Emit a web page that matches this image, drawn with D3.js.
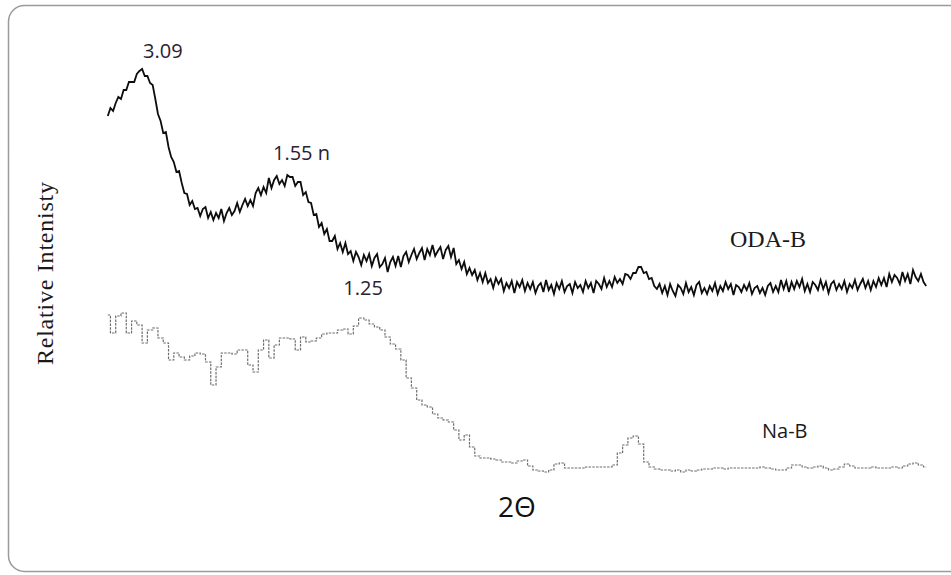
<!DOCTYPE html>
<html>
<head>
<meta charset="utf-8">
<script src="https://cdn.jsdelivr.net/npm/d3@7"></script>
<style>
  html, body { margin: 0; padding: 0; background: #fff; }
  svg { display: block; }
</style>
</head>
<body>
<svg id="chart" width="951" height="575"></svg>
<script>
// XRD scans of the organo-clay (ODA-B) and sodium clay (Na-B), offset vertically.
// Scan settings (2θ, degrees)
const scanStart = 2.25;
const odaStep = 0.05;
const naStep = 0.1;

// ODA-B intensities (a.u., stacked offset included)
const odaIntensity = [
  374,382,379,387,393,391,400,400,408,408,
  408,416,419,421,414,414,407,405,391,376,
  369,357,358,343,333,328,318,319,307,297,
  296,285,289,281,282,274,281,283,272,278,
  270,277,272,281,269,277,282,275,279,287,
  278,285,291,284,290,284,297,302,295,303,
  297,312,302,310,314,306,310,304,315,313,
  313,304,308,308,295,298,288,287,275,276,
  263,267,256,261,249,249,254,241,247,238,
  247,236,239,229,238,233,225,235,229,236,
  224,232,236,223,226,232,218,228,233,224,
  234,223,234,238,228,235,241,231,237,242,
  230,241,235,245,234,239,243,231,240,244,
  233,242,226,230,221,228,216,222,215,220,
  210,217,208,217,207,211,202,212,206,211,
  199,207,202,209,197,208,203,210,199,207,
  201,208,197,204,207,198,210,200,205,196,
  207,201,209,198,204,206,197,208,202,205,
  198,209,202,207,197,209,206,201,212,203,
  209,203,213,207,211,206,216,215,211,217,
  217,223,223,217,218,211,212,204,201,206,
  197,204,195,206,199,194,205,202,196,207,
  198,203,195,205,208,197,202,196,204,199,
  207,196,204,199,208,201,206,195,205,203,
  198,205,200,207,196,202,204,197,202,195,
  204,207,198,204,198,210,201,209,198,208,
  201,209,203,211,199,206,198,208,205,200,
  210,201,208,197,206,209,200,206,201,209,
  198,206,202,210,200,206,211,202,209,200,
  209,203,212,205,212,203,216,208,215,212,
  206,218,209,216,206,220,213,209,216,208,
  204
];

// Na-B intensities (a.u.)
const naIntensity = [
  175,157,174,177,157,169,165,147,160,162,
  152,147,130,137,133,130,134,137,136,128,
  105,123,137,137,136,140,140,125,118,140,
  150,132,145,152,152,151,140,153,148,149,
  152,156,157,157,160,161,156,164,172,170,
  166,163,160,153,146,141,130,112,102,90,
  85,83,76,72,70,68,60,50,55,43,
  34,32,32,31,30,28,28,27,29,30,
  24,20,19,18,20,26,27,22,22,22,
  22,23,23,23,23,23,25,37,45,52,
  54,46,28,23,21,20,20,19,20,18,
  20,19,20,21,21,22,22,21,22,22,
  22,22,22,22,23,22,21,20,20,22,
  25,25,23,22,23,24,22,20,21,23,
  26,24,22,22,22,23,22,22,22,23,
  22,24,26,27,25,23
];

// Peak labels: d-spacing (nm) at the reflection's 2θ position
const odaPeakLabels = [
  { text: "3.09",   twoTheta: 2.86, dx: 3,   dy: -13 },
  { text: "1.55 n", twoTheta: 5.70, dx: -17, dy: -17 }
];
const naPeakLabels = [
  { text: "1.25", twoTheta: 7.07, dx: -19, dy: -23 }
];
const seriesNames = ["ODA-B", "Na-B"];
const xTitle = "2\u0398";
const yTitle = "Relative Intenisty";

const oda = odaIntensity.map((v, i) => ({ t: +(scanStart + i * odaStep).toFixed(3), v }));
const na = naIntensity.map((v, i) => ({ t: +(scanStart + i * naStep).toFixed(3), v }));

const svg = d3.select("#chart");

// Frame
svg.append("rect")
  .attr("x", 8.5).attr("y", 5.5)
  .attr("width", 960).attr("height", 566)
  .attr("rx", 16).attr("ry", 16)
  .attr("fill", "#fff")
  .attr("stroke", "#9a9a9a")
  .attr("stroke-width", 1.5);

const x = d3.scaleLinear().domain([2, 18]).range([94.6, 939.4]);
const y = d3.scaleLinear().domain([0, 450]).range([490, 40]);

const odaLine = d3.line().x(d => x(d.t)).y(d => y(d.v)).curve(d3.curveLinear);
const naLine = d3.line().x(d => x(d.t)).y(d => y(d.v)).curve(d3.curveStep);

svg.append("path")
  .datum(na)
  .attr("d", naLine)
  .attr("fill", "none")
  .attr("stroke", "#6e6e6e")
  .attr("stroke-width", 1.2)
  .attr("stroke-dasharray", "2.5,1.2");

svg.append("path")
  .datum(oda)
  .attr("d", odaLine)
  .attr("fill", "none")
  .attr("stroke", "#0d0d0d")
  .attr("stroke-width", 1.8)
  .attr("stroke-linejoin", "miter");

const sans = "'Open Sans', 'DejaVu Sans', sans-serif";
const serif = "'Liberation Serif', 'Times New Roman', serif";

function nearest(series, t) {
  return series.reduce((a, b) => Math.abs(b.t - t) < Math.abs(a.t - t) ? b : a);
}

function peakLabel(series, p) {
  const pt = nearest(series, p.twoTheta);
  svg.append("text")
    .attr("x", x(p.twoTheta) + p.dx)
    .attr("y", y(pt.v) + p.dy)
    .attr("font-family", sans)
    .attr("font-size", 20)
    .attr("fill", "#2a2233")
    .text(p.text);
}
odaPeakLabels.forEach(p => peakLabel(oda, p));
naPeakLabels.forEach(p => peakLabel(na, p));

// Series names
svg.append("text")
  .attr("x", 730).attr("y", 247)
  .attr("font-family", serif)
  .attr("font-size", 24)
  .attr("fill", "#1a1a1a")
  .text(seriesNames[0]);

svg.append("text")
  .attr("x", 762).attr("y", 438)
  .attr("font-family", sans)
  .attr("font-size", 20)
  .attr("fill", "#1a1a1a")
  .text(seriesNames[1]);

// Axis titles
svg.append("text")
  .attr("x", 498).attr("y", 517)
  .attr("font-family", sans)
  .attr("font-size", 28)
  .attr("fill", "#111")
  .text(xTitle);

svg.append("text")
  .attr("transform", "translate(53,365) rotate(-90)")
  .attr("font-family", serif)
  .attr("font-size", 24)
  .attr("textLength", 183)
  .attr("lengthAdjust", "spacing")
  .attr("fill", "#1a1a1a")
  .text(yTitle);
</script>
</body>
</html>
